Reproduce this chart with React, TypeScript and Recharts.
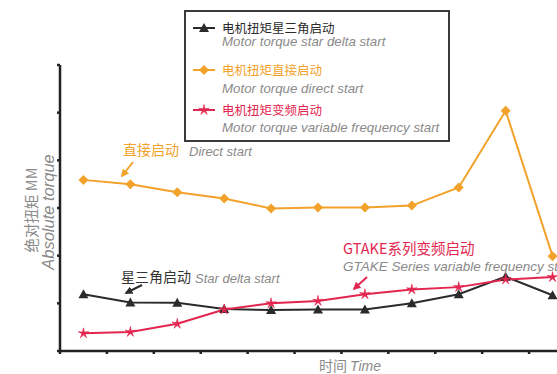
import React from "react";
import { LineChart, Line, XAxis, YAxis } from "recharts";

const slots = [0.5, 1.5, 2.5, 3.5, 4.5, 5.5, 6.5, 7.5, 8.5, 9.5, 10.5];
const starDelta = [1.19, 1.02, 1.01, 0.88, 0.86, 0.87, 0.87, 1.0, 1.19, 1.56, 1.17];
const direct = [3.59, 3.5, 3.33, 3.2, 2.99, 3.01, 3.01, 3.05, 3.43, 5.04, 1.99];
const variableFreq = [0.37, 0.4, 0.57, 0.87, 1.0, 1.05, 1.19, 1.29, 1.34, 1.5, 1.55];
const xTicks = [0, 1, 2, 3, 4, 5, 6, 7, 8, 9, 10, 11];
const yTicks = [0, 1, 2, 3, 4, 5, 6];

const legendItems = [
  { zh: "电机扭矩星三角启动", en: "Motor torque star delta start", color: "#2b2b2b", shape: "triangle" },
  { zh: "电机扭矩直接启动", en: "Motor torque direct start", color: "#f2a22a", shape: "diamond" },
  { zh: "电机扭矩变频启动", en: "Motor torque variable frequency start", color: "#e3264f", shape: "star" },
];

const data = slots.map((t, i) => ({
  t,
  starDelta: starDelta[i],
  direct: direct[i],
  variableFreq: variableFreq[i],
}));

const SANS = "'Liberation Sans', Arial, sans-serif";
const CJK = "'Noto Sans CJK SC', sans-serif";
const GRAY = "#8a8a8a";
const AXIS = "#222";

const Marker = ({ cx, cy, shape, color }: any) => {
  if (cx == null || cy == null) return null;
  if (shape === "triangle") {
    return <polygon points={`${cx},${cy - 5} ${cx - 5},${cy + 4} ${cx + 5},${cy + 4}`} fill={color} />;
  }
  if (shape === "diamond") {
    return <polygon points={`${cx},${cy - 5} ${cx + 5},${cy} ${cx},${cy + 5} ${cx - 5},${cy}`} fill={color} />;
  }
  // thin asterisk-like star
  const pts: string[] = [];
  for (let k = 0; k < 10; k++) {
    const r = k % 2 === 0 ? 5.5 : 1.6;
    const a = -Math.PI / 2 + (k * Math.PI) / 5;
    pts.push(`${cx + r * Math.cos(a)},${cy + r * Math.sin(a)}`);
  }
  return <polygon points={pts.join(" ")} fill={color} stroke={color} strokeWidth={0.6} />;
};

// legend rows: page-y centres, box top border at y=10
const rowTops = [
  [10, 24],
  [52, 71],
  [92, 110],
];

const LegendBox = () => (
  <div
    style={{
      position: "absolute",
      left: 184,
      top: 10,
      width: 266,
      height: 132,
      border: "2px solid #3a3a3a",
      background: "#fff",
      boxSizing: "border-box",
    }}
  >
    {legendItems.map((it, i) => (
      <React.Fragment key={it.zh}>
        <svg width={22} height={12} style={{ position: "absolute", left: 7, top: rowTops[i][0] }}>
          <line x1={0} y1={6} x2={22} y2={6} stroke={it.color} strokeWidth={2} />
          <Marker cx={11} cy={6} shape={it.shape} color={it.color} />
        </svg>
        <div
          style={{
            position: "absolute",
            left: 36,
            top: rowTops[i][0],
            whiteSpace: "nowrap",
            fontFamily: CJK,
            fontSize: 12.5,
            lineHeight: "12px",
            color: i === 0 ? "#2b2b2b" : it.color,
          }}
        >
          {it.zh}
        </div>
        <div
          style={{
            position: "absolute",
            left: 36,
            top: rowTops[i][1],
            whiteSpace: "nowrap",
            fontFamily: SANS,
            fontStyle: "italic",
            fontSize: 13.3,
            lineHeight: "12px",
            color: GRAY,
          }}
        >
          {it.en}
        </div>
      </React.Fragment>
    ))}
  </div>
);

const arrowHead = (id: string, color: string) => (
  <marker id={id} viewBox="0 0 10 10" refX={8} refY={5} markerWidth={4} markerHeight={4} orient="auto">
    <path d="M0,0 L10,5 L0,10 z" fill={color} />
  </marker>
);

const Annotations = () => (
  <svg width={557} height={374} style={{ position: "absolute", left: 0, top: 0, pointerEvents: "none" }}>
    <defs>
      {arrowHead("arrO", "#f2a22a")}
      {arrowHead("arrK", "#2b2b2b")}
      {arrowHead("arrR", "#e3264f")}
    </defs>
    <text x={123} y={155} fontFamily={CJK} fontSize={14} fill="#f2a22a">直接启动</text>
    <text x={189} y={156} fontFamily={SANS} fontStyle="italic" fontSize={13} fill={GRAY}>Direct start</text>
    <line x1={133} y1={162} x2={122} y2={176} stroke="#f2a22a" strokeWidth={2} markerEnd="url(#arrO)" />

    <text x={121} y={282} fontFamily={CJK} fontSize={14} fill="#333">星三角启动</text>
    <text x={195} y={283} fontFamily={SANS} fontStyle="italic" fontSize={13} fill={GRAY}>Star delta start</text>
    <line x1={142} y1={285} x2={126} y2={293} stroke="#2b2b2b" strokeWidth={2} markerEnd="url(#arrK)" />

    <text x={343} y={254} fontFamily={CJK} fontSize={14.5} fill="#e3264f">GTAKE系列变频启动</text>
    <text x={343} y={271} fontFamily={SANS} fontStyle="italic" fontSize={13.5} fill={GRAY}>
      GTAKE Series variable frequency start
    </text>
    <line x1={367} y1={277} x2={354} y2={289} stroke="#e3264f" strokeWidth={2} markerEnd="url(#arrR)" />

    <g transform="translate(37,210) rotate(-90)">
      <text x={0} y={0} textAnchor="middle" fontFamily={CJK} fontSize={14.5} fill={GRAY}>绝对扭矩 MM</text>
    </g>
    <g transform="translate(54,212) rotate(-90)">
      <text x={0} y={0} textAnchor="middle" fontFamily={SANS} fontStyle="italic" fontSize={16.5} fill={GRAY}>
        Absolute torque
      </text>
    </g>
    <text x={350} y={371} textAnchor="middle" fontSize={14} fill={GRAY}>
      <tspan fontFamily={CJK}>时间 </tspan>
      <tspan fontFamily={SANS} fontStyle="italic">Time</tspan>
    </text>
  </svg>
);

export default function App() {
  return (
    <div
      style={{
        position: "absolute",
        left: 0,
        top: 0,
        width: 557,
        height: 374,
        overflow: "hidden",
        background: "#fff",
      }}
    >
      <LineChart
        width={580}
        height={374}
        data={data}
        margin={{ top: 65, right: 4, bottom: 3, left: 30 }}
      >
        <XAxis
          type="number"
          dataKey="t"
          domain={[0, 11]}
          ticks={xTicks}
          height={20}
          tickSize={3}
          tickFormatter={() => ""}
          axisLine={{ stroke: AXIS, strokeWidth: 2.5 }}
          tickLine={{ stroke: AXIS, strokeWidth: 2.5 }}
        />
        <YAxis
          type="number"
          domain={[0, 6]}
          ticks={yTicks}
          width={30}
          tickSize={3}
          tickFormatter={() => ""}
          axisLine={{ stroke: AXIS, strokeWidth: 2.5 }}
          tickLine={{ stroke: AXIS, strokeWidth: 2.5 }}
        />
        <Line
          dataKey="direct"
          stroke="#f2a22a"
          strokeWidth={2}
          dot={(p: any) => <Marker key={`d${p.index}`} cx={p.cx} cy={p.cy} shape="diamond" color="#f2a22a" />}
          isAnimationActive={false}
        />
        <Line
          dataKey="starDelta"
          stroke="#2b2b2b"
          strokeWidth={2}
          dot={(p: any) => <Marker key={`s${p.index}`} cx={p.cx} cy={p.cy} shape="triangle" color="#2b2b2b" />}
          isAnimationActive={false}
        />
        <Line
          dataKey="variableFreq"
          stroke="#e3264f"
          strokeWidth={2}
          dot={(p: any) => <Marker key={`v${p.index}`} cx={p.cx} cy={p.cy} shape="star" color="#e3264f" />}
          isAnimationActive={false}
        />
      </LineChart>
      <LegendBox />
      <Annotations />
    </div>
  );
}
